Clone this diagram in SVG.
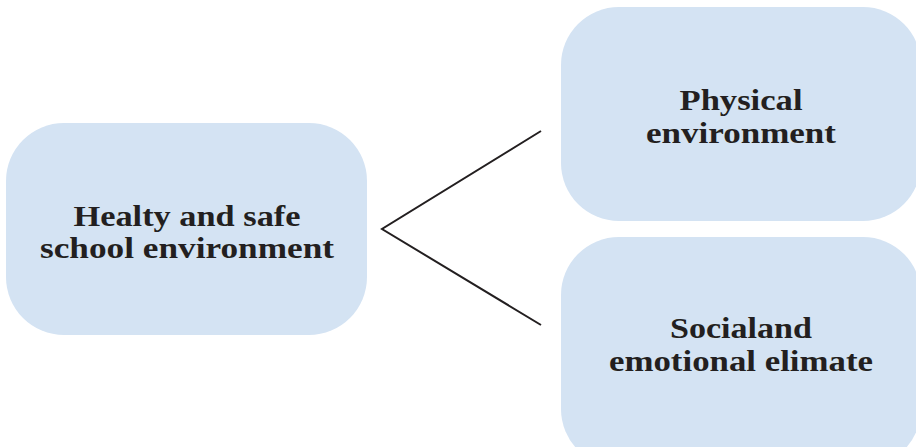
<svg xmlns="http://www.w3.org/2000/svg" width="916" height="447" viewBox="0 0 916 447">
<style>
.box{fill:#d4e3f3;}
.t{font-family:"Liberation Serif","DejaVu Serif",serif;font-weight:bold;font-size:29px;fill:#231f20;text-anchor:middle;}
.c{stroke:#231f20;stroke-width:2;fill:none;}
</style>
<rect width="916" height="447" fill="#ffffff"/>
<g id="node-main">
<rect class="box" x="6" y="123" width="361" height="212" rx="58" ry="58"/>
<text class="t" x="187" y="226" textLength="227" lengthAdjust="spacingAndGlyphs">Healty and safe</text>
<text class="t" x="187" y="258" textLength="294" lengthAdjust="spacingAndGlyphs">school environment</text>
</g>
<g id="node-physical">
<rect class="box" x="561" y="7" width="360" height="214" rx="58" ry="58"/>
<text class="t" x="741" y="110" textLength="123" lengthAdjust="spacingAndGlyphs">Physical</text>
<text class="t" x="741" y="143" textLength="190" lengthAdjust="spacingAndGlyphs">environment</text>
</g>
<g id="node-social">
<rect class="box" x="561" y="237" width="360" height="230" rx="58" ry="58"/>
<text class="t" x="741" y="338" textLength="142" lengthAdjust="spacingAndGlyphs">Socialand</text>
<text class="t" x="741" y="371" textLength="264" lengthAdjust="spacingAndGlyphs">emotional elimate</text>
</g>
<g id="connectors">
<polyline class="c" points="541,131 382,229 541,325"/>
</g>
</svg>
